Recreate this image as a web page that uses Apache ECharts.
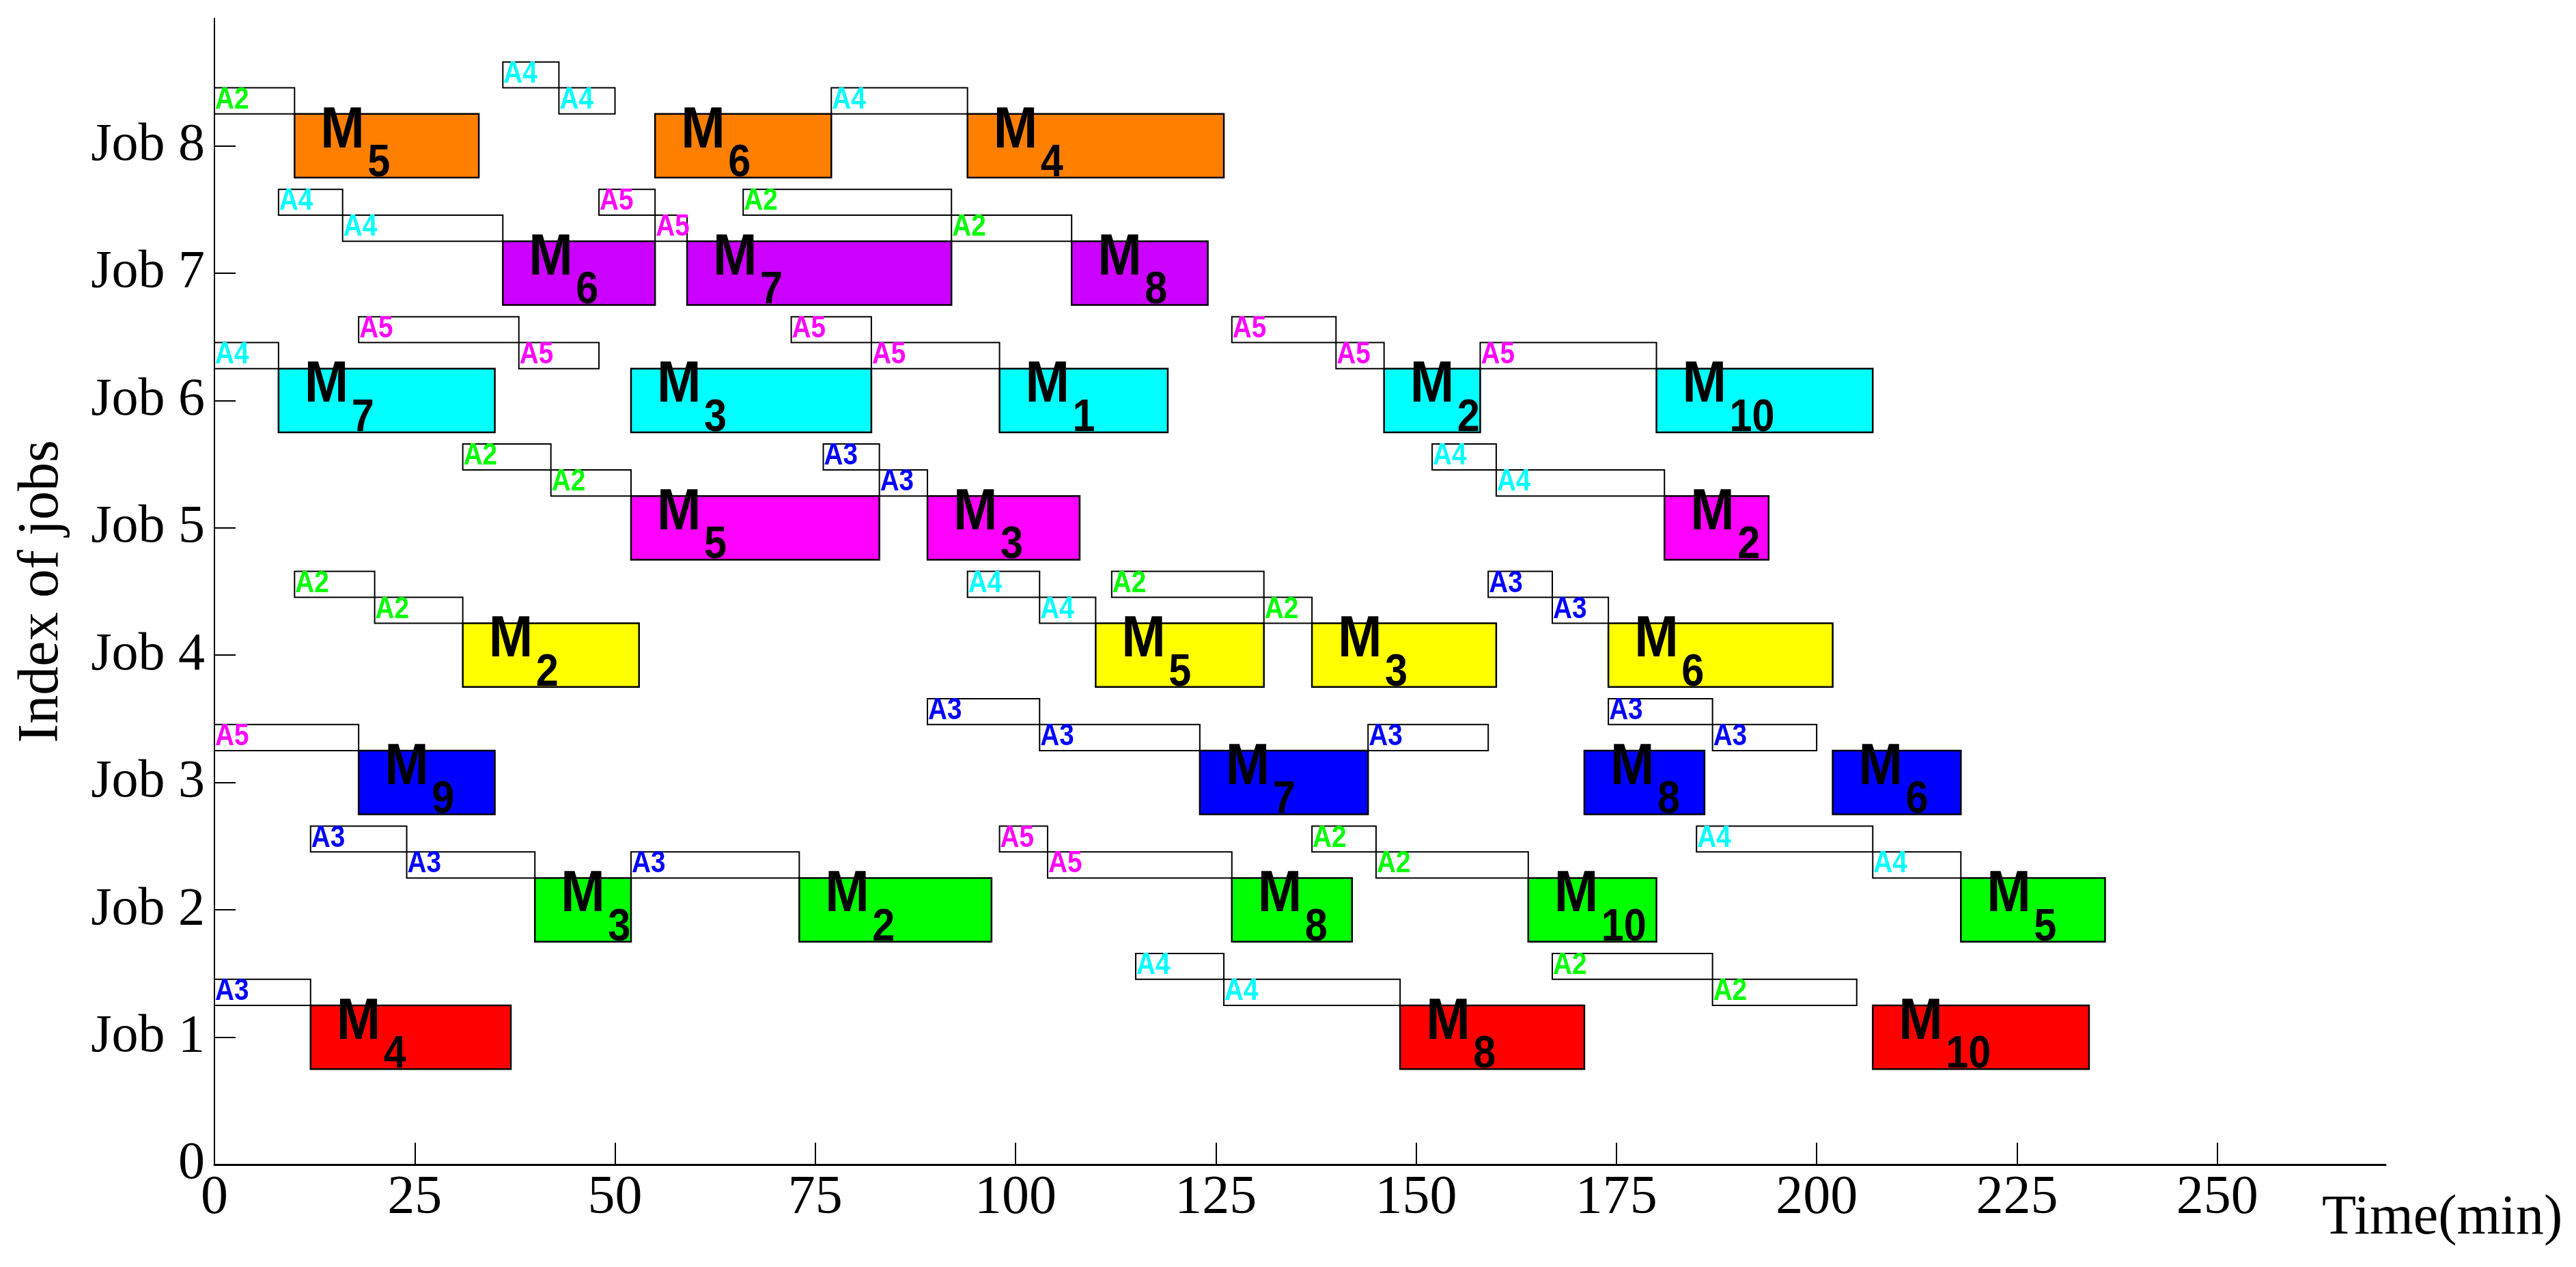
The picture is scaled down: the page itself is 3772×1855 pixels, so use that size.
<!DOCTYPE html>
<html>
<head>
<meta charset="utf-8">
<script src="https://cdn.jsdelivr.net/npm/echarts@6/dist/echarts.min.js"></script>
<style>
html,body{margin:0;padding:0;background:#fff;}
#chart{width:3772px;height:1855px;}
</style>
</head>
<body>
<div id="chart"></div>
<script>
// ---------- data ----------
const jobNames = ['Job 1','Job 2','Job 3','Job 4','Job 5','Job 6','Job 7','Job 8'];
const xTickValues = [0,25,50,75,100,125,150,175,200,225,250];
const yLabelValues = [0,1,2,3,4,5,6,7,8];

// machine operations per job: [machine, start, end]
const job1Machines = [[4,12,37],[8,148,171],[10,207,234]];
const job2Machines = [[3,40,52],[2,73,97],[8,127,142],[10,164,180],[5,218,236]];
const job3Machines = [[9,18,35],[7,123,144],[8,171,186],[6,202,218]];
const job4Machines = [[2,31,53],[5,110,131],[3,137,160],[6,174,202]];
const job5Machines = [[5,52,83],[3,89,108],[2,181,194]];
const job6Machines = [[7,8,35],[3,52,82],[1,98,119],[2,146,158],[10,180,207]];
const job7Machines = [[6,36,55],[7,59,92],[8,107,124]];
const job8Machines = [[5,10,33],[6,55,77],[4,94,126]];

// AGV transports per job: [agv number, level (1 = lower, 2 = upper), start, end]
const job1Trips = [[3,1,0,12],[4,2,115,126],[4,1,126,148],[2,2,167,187],[2,1,187,205]];
const job2Trips = [[3,2,12,24],[3,1,24,40],[3,1,52,73],[5,2,98,104],[5,1,104,127],[2,2,137,145],[2,1,145,164],[4,2,185,207],[4,1,207,218]];
const job3Trips = [[5,1,0,18],[3,2,89,103],[3,1,103,123],[3,1,144,159],[3,2,174,187],[3,1,187,200]];
const job4Trips = [[2,2,10,20],[2,1,20,31],[4,2,94,103],[4,1,103,110],[2,2,112,131],[2,1,131,137],[3,2,159,167],[3,1,167,174]];
const job5Trips = [[2,2,31,42],[2,1,42,52],[3,2,76,83],[3,1,83,89],[4,2,152,160],[4,1,160,181]];
const job6Trips = [[4,1,0,8],[5,2,18,38],[5,1,38,48],[5,2,72,82],[5,1,82,98],[5,2,127,140],[5,1,140,146],[5,1,158,180]];
const job7Trips = [[4,2,8,16],[4,1,16,36],[5,2,48,55],[5,1,55,59],[2,2,66,92],[2,1,92,107]];
const job8Trips = [[2,1,0,10],[4,2,36,43],[4,1,43,50],[4,1,77,94]];

// ---------- styles ----------
const jobColors = ['#ff0000','#00ff00','#0000ff','#ffff00','#ff00ff','#00ffff','#cc00ff','#ff8000'];
const agvColors = {2:'#00ff00',3:'#0000ff',4:'#00ffff',5:'#ff00ff'};
const serif = '"Liberation Serif","Times New Roman",serif';
const sans = '"Liberation Sans",Arial,sans-serif';

const allMachines = [job1Machines,job2Machines,job3Machines,job4Machines,job5Machines,job6Machines,job7Machines,job8Machines];
const allTrips = [job1Trips,job2Trips,job3Trips,job4Trips,job5Trips,job6Trips,job7Trips,job8Trips];

const machineData = [];
allMachines.forEach((ops, i) => ops.forEach(o => machineData.push([i + 1, o[1], o[2], o[0]])));
const tripData = [];
allTrips.forEach((ops, i) => ops.forEach(o => tripData.push([i + 1, o[2], o[3], o[1], o[0]])));

const levelBounds = {1: [0.25, 0.455], 2: [0.455, 0.658]};

function renderMachine(params, api) {
  const job = api.value(0), s = api.value(1), e = api.value(2), m = api.value(3);
  const p0 = api.coord([s, job + 0.25]);
  const p1 = api.coord([e, job - 0.25]);
  const x = p0[0], y = p0[1], w = p1[0] - p0[0], h = p1[1] - p0[1];
  return {
    type: 'group',
    children: [
      {type: 'rect', shape: {x: x, y: y, width: w, height: h},
       style: {fill: jobColors[job - 1], stroke: '#000', lineWidth: 2.5}},
      {type: 'text', x: x + 38, y: y + 25, scaleX: 0.9,
       style: {text: 'M', font: 'bold 86px ' + sans, fill: '#000', align: 'left', verticalAlign: 'middle'}},
      {type: 'text', x: x + 107, y: y + 73, scaleX: 0.9,
       style: {text: String(m), font: 'bold 66px ' + sans, fill: '#000', align: 'left', verticalAlign: 'middle'}}
    ]
  };
}

function renderTrip(params, api) {
  const job = api.value(0), s = api.value(1), e = api.value(2), lvl = api.value(3), agv = api.value(4);
  const b = levelBounds[lvl];
  const p0 = api.coord([s, job + b[1]]);
  const p1 = api.coord([e, job + b[0]]);
  const x = p0[0], y = p0[1], w = p1[0] - p0[0], h = p1[1] - p0[1];
  return {
    type: 'group',
    children: [
      {type: 'rect', shape: {x: x, y: y, width: w, height: h},
       style: {fill: 'rgba(255,255,255,0)', stroke: '#000', lineWidth: 2}},
      {type: 'text', x: x + 1, y: y + 18, scaleX: 0.88,
       style: {text: 'A' + agv, font: 'bold 44px ' + sans, fill: agvColors[agv], align: 'left', verticalAlign: 'middle'}}
    ]
  };
}

const chart = echarts.init(document.getElementById('chart'), null, {renderer: 'canvas'});
chart.setOption({
  animation: false,
  backgroundColor: '#fff',
  grid: {left: 314, right: 279, top: 27, bottom: 150, containLabel: false},
  xAxis: {
    type: 'value', min: 0, max: 271, interval: 25,
    axisLine: {show: true, onZero: false, lineStyle: {color: '#000', width: 3}},
    axisTick: {show: true, inside: true, length: 32, lineStyle: {color: '#000', width: 2},
               customValues: xTickValues.slice(1)},
    axisLabel: {customValues: xTickValues, color: '#000', fontFamily: serif, fontSize: 80, margin: 10},
    splitLine: {show: false},
    name: 'Time(min)', nameLocation: 'end', nameGap: -93,
    nameTextStyle: {color: '#000', fontFamily: serif, fontSize: 82, align: 'left', verticalAlign: 'top',
                    padding: [38, 0, 0, 0]}
  },
  yAxis: {
    type: 'value', min: 0, max: 9, interval: 1,
    axisLine: {show: true, onZero: false, lineStyle: {color: '#000', width: 2}},
    axisTick: {show: true, inside: true, length: 31, lineStyle: {color: '#000', width: 2},
               customValues: yLabelValues.slice(1)},
    axisLabel: {customValues: yLabelValues, color: '#000', fontFamily: serif, fontSize: 78, margin: 14,
                formatter: v => (v === 0 ? '0' : jobNames[v - 1])},
    splitLine: {show: false},
    name: 'Index of jobs', nameLocation: 'middle', nameGap: 210,
    nameTextStyle: {color: '#000', fontFamily: serif, fontSize: 84}
  },
  series: [
    {type: 'custom', name: 'transport', renderItem: renderTrip, data: tripData,
     encode: {x: [1, 2], y: 0}, clip: false, silent: true},
    {type: 'custom', name: 'machines', renderItem: renderMachine, data: machineData,
     encode: {x: [1, 2], y: 0}, clip: false, silent: true}
  ]
});
</script>
</body>
</html>
